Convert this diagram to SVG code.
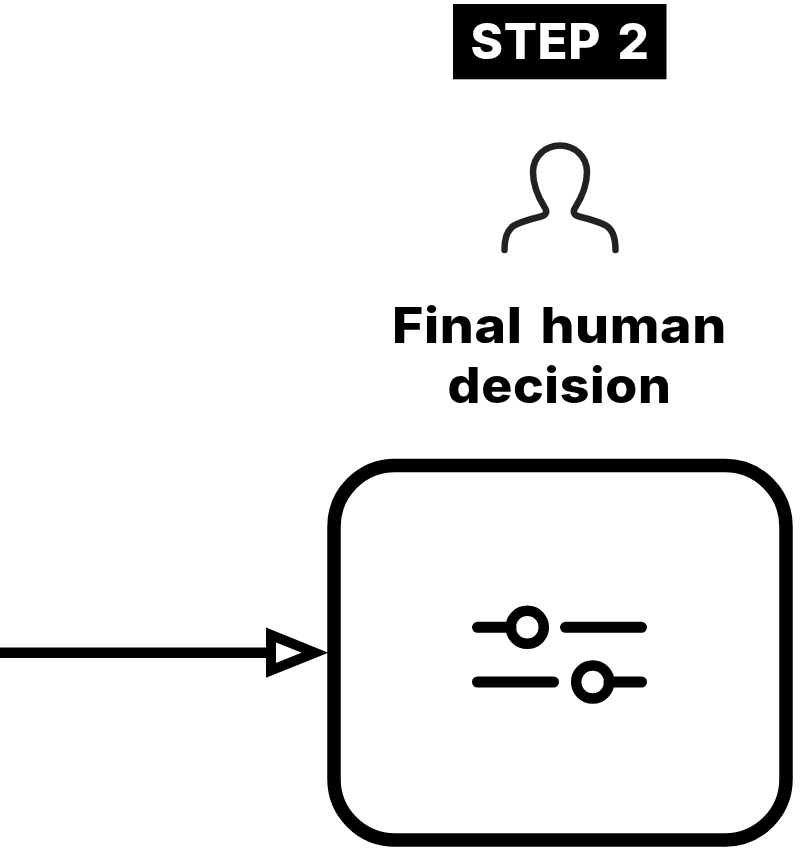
<svg xmlns="http://www.w3.org/2000/svg" width="804" height="864" viewBox="0 0 804 864">
<style>
.t{font-family:Inter,"Open Sans","Liberation Sans",sans-serif;font-weight:800;text-anchor:middle;word-spacing:5px;letter-spacing:.6px}
.s{fill:none;stroke:#000;stroke-linecap:round}
</style>
<rect width="804" height="864" fill="#fff"/>
<g id="step-label">
<rect x="453" y="4" width="213.500" height="75.300" fill="#000"/>
<text class="t" x="560" y="58.500" font-size="49" fill="#fff" textLength="179" lengthAdjust="spacingAndGlyphs">STEP 2</text>
</g>
<g id="person-icon">
<path d="M504.500 250C504.500 238 507 229 515 225C522 221.500 535 218 541 216.500C547 215 547 211 545 208C538 197 533 186 533 172C533 157 545 145.500 560 145.500C575 145.500 587 157 587 172C587 186 582 197 575 208C573 211 573 215 579 216.500C585 218 598 221.500 605 225C613 229 615.500 238 615.500 250" fill="none" stroke="#222" stroke-width="6.500" stroke-linecap="round"/>
</g>
<g id="title">
<text class="t" x="559.500" y="343" font-size="49" fill="#000" textLength="335" lengthAdjust="spacingAndGlyphs">Final human</text>
<text class="t" x="559.500" y="403" font-size="49" fill="#000" textLength="224" lengthAdjust="spacingAndGlyphs">decision</text>
</g>
<g id="decision-node">
<rect x="334" y="465.500" width="452" height="374.500" rx="61" ry="61" fill="#fff" stroke="#000" stroke-width="13.500"/>
<g id="sliders-icon">
<path class="s" stroke-width="11" d="M477.500 627.300H511M565.500 627.300H641.500M477.500 682H553.500M609 682H641.500"/>
<circle cx="527.300" cy="627.300" r="16.500" fill="none" stroke="#000" stroke-width="10.500"/>
<circle cx="592.700" cy="682" r="16.500" fill="none" stroke="#000" stroke-width="10.500"/>
</g>
</g>
<g id="connectors">
<path d="M0 652.700H271" stroke="#000" stroke-width="10.500" fill="none"/>
<polygon points="271,635 271,670.400 315,652.700" fill="#fff" stroke="#000" stroke-width="10" stroke-miterlimit="10"/>
</g>
</svg>
